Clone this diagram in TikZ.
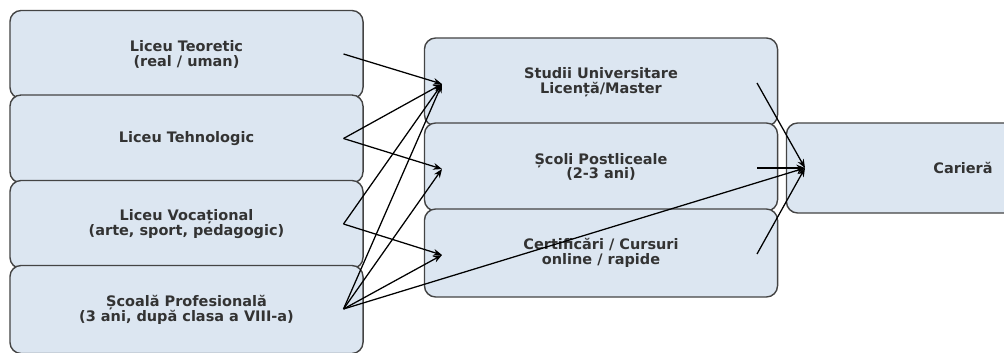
\documentclass[tikz,border=0pt]{standalone}
\usepackage{fontspec}
\setsansfont{DejaVu Sans}
\usetikzlibrary{arrows.meta,calc}
\definecolor{ink}{HTML}{333333}
\definecolor{edge}{HTML}{444444}
\definecolor{boxfill}{HTML}{DCE6F1}

\begin{document}
\begin{tikzpicture}[x=0.025cm,y=-0.025cm,
    font=\sffamily\bfseries\fontsize{10.3}{10.6}\selectfont,text=ink,
    box/.style={draw=edge,line width=1pt,fill=boxfill,rounded corners=0.28cm,
      minimum width=8.825cm,minimum height=2.2cm,align=center,inner sep=0pt},
    arr/.style={-{Stealth[length=2.2mm,width=1.7mm]},line width=0.9pt,black}]
  \useasboundingbox (0,0) rectangle (1004,353);
  % secondary school routes
  \foreach \name/\y/\txt in {lt/54.5/{Liceu Teoretic\\(real / uman)},
      lh/139/{Liceu Tehnologic},
      lv/224.5/{Liceu Vocațional\\(arte, sport, pedagogic)},
      sp/309.5/{Școală Profesională\\(3 ani, după clasa a VIII-a)}}{
    \node[box] (\name) at (186.5,\y) {\txt};
    \coordinate (\name-out) at ($(\name)+(157,-0.5)$);
  }
  % further studies
  \foreach \name/\y/\txt in {su/82/{Studii Universitare\\Licență/Master},
      pl/167/{Școli Postliceale\\(2-3 ani)},
      cc/253/{Certificări / Cursuri\\online / rapide}}{
    \node[box] (\name) at (601,\y) {\txt};
    \coordinate (\name-in) at ($(\name)+(-159,2)$);
    \coordinate (\name-out) at ($(\name)+(156,1)$);
  }
  \node[box,minimum height=2.25cm] (car) at (963,168) {Carieră};
  \coordinate (car-in) at ($(car)+(-158,0)$);
  % connections
  \draw[arr] (lt-out) -- (su-in);
  \draw[arr] (lh-out) -- (su-in);
  \draw[arr] (lh-out) -- (pl-in);
  \draw[arr] (lv-out) -- (su-in);
  \draw[arr] (lv-out) -- (cc-in);
  \foreach \t in {su,pl,cc}
    \draw[arr] (sp-out) -- (\t-in);
  \draw[arr] (sp-out) -- (car-in);
  \foreach \s in {su,pl,cc}
    \draw[arr] (\s-out) -- (car-in);
\end{tikzpicture}
\end{document}
